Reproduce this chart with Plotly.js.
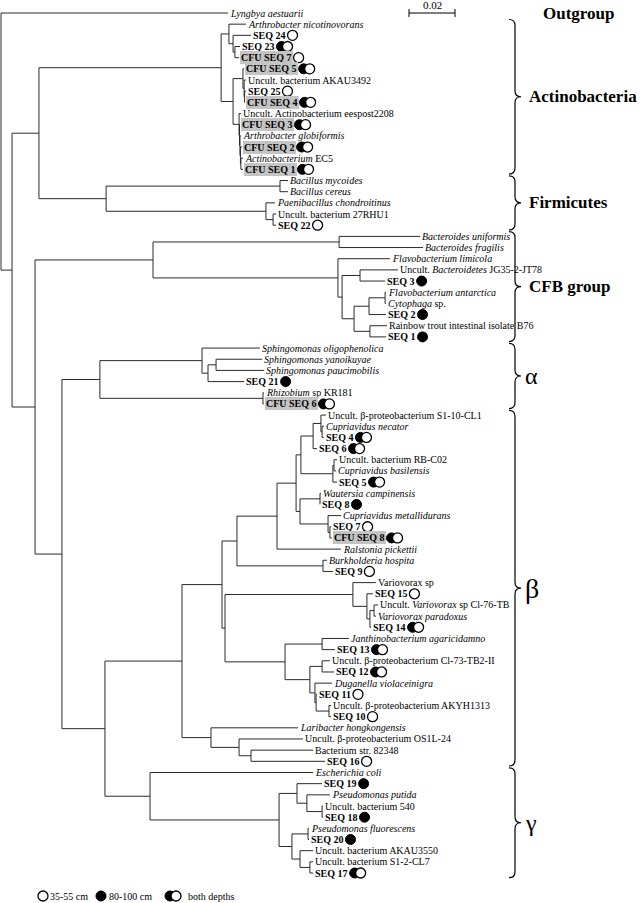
<!DOCTYPE html>
<html><head><meta charset="utf-8">
<script src="https://cdn.plot.ly/plotly-3.0.1.min.js"></script>
<style>html,body{margin:0;padding:0;background:#fff}#chart{width:644px;height:903px}</style>
</head><body><div id="chart"></div>
<script>
// ---------------- DATA ----------------
const leafLabels = [
"<i>Lyngbya aestuarii</i>","<i>Arthrobacter nicotinovorans</i>","<b>SEQ 24</b>","<b>SEQ 23</b>","<b>CFU SEQ 7</b>",
"<b>CFU SEQ 5</b>","Uncult. bacterium AKAU3492","<b>SEQ 25</b>","<b>CFU SEQ 4</b>","Uncult. Actinobacterium eespost2208",
"<b>CFU SEQ 3</b>","<i>Arthrobacter globiformis</i>","<b>CFU SEQ 2</b>","<i>Actinobacterium</i> EC5","<b>CFU SEQ 1</b>",
"<i>Bacillus mycoides</i>","<i>Bacillus cereus</i>","<i>Paenibacillus chondroitinus</i>","Uncult. bacterium 27RHU1","<b>SEQ 22</b>",
"<i>Bacteroides uniformis</i>","<i>Bacteroides fragilis</i>","<i>Flavobacterium limicola</i>","Uncult. <i>Bacteroidetes</i> JG35-2-JT78","<b>SEQ 3</b>",
"<i>Flavobacterium antarctica</i>","<i>Cytophaga</i> sp.","<b>SEQ 2</b>","Rainbow trout intestinal isolate B76","<b>SEQ 1</b>",
"<i>Sphingomonas oligophenolica</i>","<i>Sphingomonas yanoikuyae</i>","<i>Sphingomonas paucimobilis</i>","<b>SEQ 21</b>","<i>Rhizobium</i> sp KR181",
"<b>CFU SEQ 6</b>","Uncult. β-proteobacterium S1-10-CL1","<i>Cupriavidus necator</i>","<b>SEQ 4</b>","<b>SEQ 6</b>",
"Uncult. bacterium RB-C02","<i>Cupriavidus basilensis</i>","<b>SEQ 5</b>","<i>Wautersia campinensis</i>","<b>SEQ 8</b>",
"<i>Cupriavidus metallidurans</i>","<b>SEQ 7</b>","<b>CFU SEQ 8</b>","<i>Ralstonia pickettii</i>","<i>Burkholderia hospita</i>",
"<b>SEQ 9</b>","Variovorax sp","<b>SEQ 15</b>","Uncult. <i>Variovorax</i> sp Cl-76-TB","<i>Variovorax paradoxus</i>",
"<b>SEQ 14</b>","<i>Janthinobacterium agaricidamno</i>","<b>SEQ 13</b>","Uncult. β-proteobacterium Cl-73-TB2-II","<b>SEQ 12</b>",
"<i>Duganella violaceinigra</i>","<b>SEQ 11</b>","Uncult. β-proteobacterium AKYH1313","<b>SEQ 10</b>","<i>Laribacter hongkongensis</i>",
"Uncult. β-proteobacterium OS1L-24","Bacterium str. 82348","<b>SEQ 16</b>","<i>Escherichia coli</i>","<b>SEQ 19</b>",
"<i>Pseudomonas putida</i>","Uncult. bacterium 540","<b>SEQ 18</b>","<i>Pseudomonas fluorescens</i>","<b>SEQ 20</b>",
"Uncult. bacterium AKAU3550","Uncult. bacterium S1-2-CL7","<b>SEQ 17</b>"
];
// cumulative distance from root (substitutions per site)
const leafDist = [
0.0987,0.1065,0.1087,0.1039,0.1035, 0.1057,0.1065,0.1065,0.1061,0.1043,
0.1039,0.1043,0.1048,0.1052,0.1052, 0.1248,0.1248,0.1191,0.1196,0.1196,
0.1822,0.1835,0.1691,0.1726,0.1670, 0.1674,0.1674,0.1674,0.1678,0.1674,
0.1126,0.1135,0.1143,0.1057,0.1143, 0.1143,0.1413,0.1404,0.1404,0.1374,
0.1461,0.1457,0.1461,0.1391,0.1387, 0.1478,0.1435,0.1439,0.1478,0.1417,
0.1443,0.1630,0.1617,0.1639,0.1630, 0.1609,0.1513,0.1452,0.1430,0.1448,
0.1439,0.1374,0.1435,0.1435,0.1291, 0.1313,0.1357,0.1409,0.1357,0.1396,
0.1430,0.1400,0.1400,0.1339,0.1339, 0.1357,0.1357,0.1357
];
const leafParent = [
"root","nAct1","nAct1b","nAct1c","nAct1c", "nC","nC2","nC3","nC3","nD",
"nD2","nD3","nD4","nD5","nD5", "nBac","nBac","nPaen","nPaen2","nPaen2",
"nBact","nBact","nCFB2","nH","nH", "nK","nK","nJ","nL","nL",
"nSph","nSph3","nSph3","nSph2","nRhiz", "nRhiz","nR1","nR2","nR2","nR",
"nT1","nT1","nT","nW","nW", "nY","nX","nX","nP","nBk",
"nBk","nVar","nVa","nVc","nVc", "nVb","nJa","nJa","nJc","nJc",
"nJd","nJe","nJf","nJf","nLar", "nLb","nLc","nLc","nGam","nGa",
"nGb","nGc","nGc","nGe","nGe", "nGf","nGg","nGg"
];
// sampling depth: o = 35-55 cm, f = 80-100 cm, b = both depths
const leafDepth = [
"","","o","b","o", "b","","o","b","", "b","","b","","b", "","","","","o",
"","","","","f", "","","f","","f", "","","","f","", "b","","","b","b",
"","","b","","f", "","o","b","","", "o","","o","","", "b","","b","","b",
"","o","","o","", "","","o","","f", "","","f","","f", "","","b"
];
const nodeNames = ["root","nA","nB","nAct","nAct1","nAct1b","nAct1c","nAct2","nC","nC2","nC3","nD","nD2","nD3","nD4","nD5",
"nFirm","nBac","nPaen","nPaen2","nE","nCFB","nBact","nCFB2","nG","nH","nI","nJ","nK","nL",
"nM","nAlpha","nSph","nSph2","nSph3","nRhiz","nN","nBeta","nBeta1","nO","nP","nQ","nS","nR","nR1","nR2","nT","nT1",
"nQ2","nW","nY","nX","nBk","nV","nVar","nVa","nVb","nVc","nJn","nJa","nJb","nJc","nJd","nJe","nJf",
"nLar","nLb","nLc","nGam","nG2","nGa","nGb","nGc","nGd","nGe","nGf","nGg"];
const nodeParent = ["","root","nA","nB","nAct","nAct1","nAct1b","nAct","nAct2","nC","nC2","nAct2","nD","nD2","nD3","nD4",
"nB","nFirm","nFirm","nPaen","nA","nE","nCFB","nCFB","nCFB2","nG","nG","nI","nJ","nI",
"nE","nM","nAlpha","nSph","nSph2","nAlpha","nM","nN","nBeta","nBeta1","nO","nP","nQ","nS","nR","nR1","nS","nT",
"nQ","nQ2","nQ2","nY","nO","nBeta1","nV","nVar","nVa","nVb","nV","nJn","nJn","nJb","nJb","nJd","nJe",
"nBeta","nLar","nLb","nN","nGam","nG2","nGa","nGb","nG2","nGd","nGd","nGf"];
const nodeDist = [0,0.0048,0.0165,0.0957,0.0991,0.1009,0.1017,0.1009,0.1052,0.1057,0.1059,0.1035,0.1037,0.1039,0.1041,0.1043,
0.0457,0.1213,0.1152,0.1183,0.0148,0.0661,0.1470,0.1465,0.1483,0.1561,0.1535,0.1600,0.1670,0.1604,
0.0265,0.0430,0.0874,0.0900,0.0935,0.1139,0.0452,0.0787,0.0961,0.1026,0.1200,0.1283,0.1304,0.1357,0.1391,0.1396,0.1443,0.1448,
0.1300,0.1387,0.1422,0.1430,0.1400,0.0974,0.1530,0.1591,0.1604,0.1622,0.1235,0.1396,0.1343,0.1396,0.1365,0.1370,0.1426,
0.0913,0.1035,0.1087,0.0648,0.1209,0.1287,0.1330,0.1396,0.1265,0.1335,0.1300,0.1343];
const groupNames = ["Actinobacteria","Firmicutes","CFB group","α","β","γ"];
const groupFirstRow = [1,15,20,30,36,68];
const groupLastRow = [14,19,29,35,67,77];
const outgroupName = "Outgroup";
const scaleBarLength = 0.02;
const legendLabels = ["35-55 cm","80-100 cm","both depths"];

// ---------------- LAYOUT HELPERS ----------------
const W = 644, H = 903;
const PX_PER_UNIT = 2300, ROOT_PX = 1, ROW0_PX = 13, ROW_PX = 11.169;
const px2x = p => (p - ROOT_PX) / PX_PER_UNIT;
const px2row = p => (p - ROW0_PX) / ROW_PX;
const FONT = 'Liberation Serif, Times New Roman, Times, serif';

const nodeIndex = {}; nodeNames.forEach((n,i)=>nodeIndex[n]=i);
const children = nodeNames.map(()=>[]);
leafParent.forEach((p,i)=>children[nodeIndex[p]].push({leaf:true,i}));
nodeParent.forEach((p,i)=>{ if(p) children[nodeIndex[p]].push({leaf:false,i}); });
const nodeY = [];
function yOf(c){ return c.leaf ? c.i : computeY(c.i); }
function computeY(n){
  if(nodeY[n]!==undefined) return nodeY[n];
  const ys = children[n].map(yOf);
  nodeY[n] = (Math.min(...ys)+Math.max(...ys))/2;
  return nodeY[n];
}
const lx=[], ly=[];
leafParent.forEach((p,i)=>{ lx.push(nodeDist[nodeIndex[p]], leafDist[i], null); ly.push(i,i,null); });
nodeParent.forEach((p,n)=>{ if(p){ const y=computeY(n); lx.push(nodeDist[nodeIndex[p]], nodeDist[n], null); ly.push(y,y,null);} });
nodeNames.forEach((nm,n)=>{ const ys=children[n].map(yOf); lx.push(nodeDist[n],nodeDist[n],null); ly.push(Math.min(...ys),Math.max(...ys),null); });

const traces = [{x:lx,y:ly,mode:'lines',line:{color:'#2a2a2a',width:1},hoverinfo:'skip',showlegend:false}];

// depth markers after SEQ labels (first estimate from canvas, refined after render)
const ctx = document.createElement('canvas').getContext('2d');
ctx.font = 'bold 10px "Liberation Serif"';
const legRow = px2row(896);
function markerData(widthOf){
  const fx=[],fy=[],ox=[],oy=[];
  leafDepth.forEach((d,i)=>{
    if(!d) return;
    const tw = widthOf(i);
    const c1 = leafDist[i] + (2 + tw + 7)/PX_PER_UNIT;
    if(d==='o'){ ox.push(c1); oy.push(i); }
    else if(d==='f'){ fx.push(c1); fy.push(i); }
    else { fx.push(c1); fy.push(i); ox.push(c1 + 6/PX_PER_UNIT); oy.push(i); }
  });
  fx.push(px2x(101), px2x(170)); fy.push(legRow, legRow);
  ox.push(px2x(43), px2x(176)); oy.push(legRow, legRow);
  return {fx,fy,ox,oy};
}
const m0 = markerData(i=>ctx.measureText(leafLabels[i].replace(/<[^>]+>/g,'')).width);
traces.push({x:m0.fx,y:m0.fy,mode:'markers',marker:{symbol:'circle',size:10,color:'#000',line:{color:'#000',width:1}},hoverinfo:'skip',showlegend:false});
traces.push({x:m0.ox,y:m0.oy,mode:'markers',marker:{symbol:'circle',size:10,color:'#fff',line:{color:'#000',width:1.3}},hoverinfo:'skip',showlegend:false});

// scale bar
const sbx0 = px2x(409), sbRow = px2row(13);
traces.push({x:[sbx0,sbx0,null,sbx0,sbx0+scaleBarLength,null,sbx0+scaleBarLength,sbx0+scaleBarLength],
  y:[px2row(9),px2row(17),null,sbRow,sbRow,null,px2row(9),px2row(17)],
  mode:'lines',line:{color:'#000',width:1},hoverinfo:'skip',showlegend:false});

const annotations = [];
leafLabels.forEach((t,i)=>{
  const cfu = /CFU/.test(t);
  annotations.push({x:leafDist[i],y:i,xref:'x',yref:'y',text:t,showarrow:false,xanchor:'left',yanchor:'middle',
    xshift:1,font:{family:FONT,size:10,color:'#000'},bgcolor:cfu?'#c4c4c4':'rgba(0,0,0,0)',borderpad:1,borderwidth:0});
});
annotations.push({x:sbx0+scaleBarLength/2,y:px2row(5),text:String(scaleBarLength),showarrow:false,xanchor:'center',yanchor:'middle',font:{family:FONT,size:11,color:'#000'}});
annotations.push({x:px2x(541),y:0,text:'<b>'+outgroupName+'</b>',showarrow:false,xanchor:'left',yanchor:'middle',font:{family:FONT,size:17,color:'#000'}});
const shapes = [];
groupNames.forEach((g,k)=>{
  const r1 = groupFirstRow[k]-0.42, r2 = groupLastRow[k]+0.42, rm = (groupFirstRow[k]+groupLastRow[k])/2;
  const a=px2x(509), b=px2x(515), c=px2x(521), rr=6/ROW_PX;
  const f=v=>v.toFixed(5);
  const path = `M${f(a)},${f(r1)} Q${f(b)},${f(r1)} ${f(b)},${f(r1+rr)} L${f(b)},${f(rm-rr)} Q${f(b)},${f(rm)} ${f(c)},${f(rm)} Q${f(b)},${f(rm)} ${f(b)},${f(rm+rr)} L${f(b)},${f(r2-rr)} Q${f(b)},${f(r2)} ${f(a)},${f(r2)}`;
  shapes.push({type:'path',xref:'x',yref:'y',path,line:{color:'#000',width:1.2}});
  const greek = g.length===1;
  const size = g==='β'?28:(greek?24:17);
  annotations.push({x:px2x(greek?523:527),y:rm,text:greek?g:'<b>'+g+'</b>',showarrow:false,xanchor:'left',yanchor:'middle',font:{family:FONT,size,color:'#000'}});
});
const legTextPx = [48,107,186];
legendLabels.forEach((t,k)=>annotations.push({x:px2x(legTextPx[k]),y:legRow,text:t,showarrow:false,xanchor:'left',yanchor:'middle',font:{family:FONT,size:10,color:'#000'}}));

const layout = {
  width:W,height:H,margin:{l:0,r:0,t:0,b:0},paper_bgcolor:'#fff',plot_bgcolor:'#fff',showlegend:false,
  xaxis:{range:[px2x(0),px2x(W)],visible:false,fixedrange:true},
  yaxis:{range:[px2row(H),px2row(0)],visible:false,fixedrange:true},
  annotations,shapes
};
Plotly.newPlot('chart',traces,layout,{staticPlot:true}).then(gd=>{
  // refine marker positions from the rendered label widths
  const m = markerData(i=>{
    const el = gd.querySelector('g.annotation[data-index="'+i+'"] text.annotation-text');
    return el ? el.getBBox().width : ctx.measureText(leafLabels[i].replace(/<[^>]+>/g,'')).width;
  });
  return Plotly.restyle(gd,{x:[m.fx,m.ox],y:[m.fy,m.oy]},[1,2]);
});
</script></body></html>
